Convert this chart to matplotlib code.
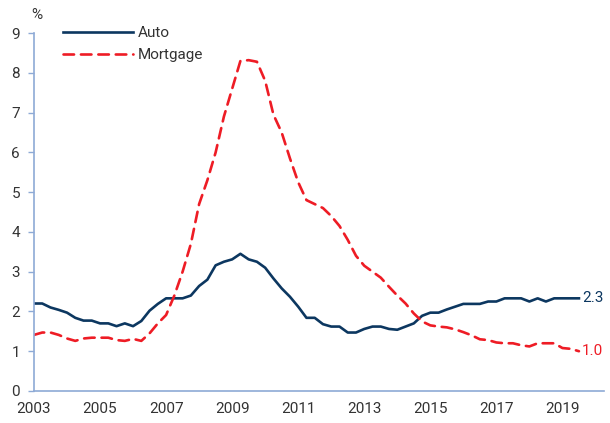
#!/usr/bin/env python3
"""Auto vs mortgage delinquency rate, quarterly 2003-2019."""

import matplotlib

matplotlib.use("Agg")
import matplotlib.pyplot as plt
import numpy as np

START_YEAR = 2003
QUARTERS_PER_YEAR = 4

# quarterly values (%), 2003Q1 .. 2019Q3
auto = [
    2.20, 2.20, 2.10, 2.04,
    1.97, 1.84, 1.77, 1.77,
    1.70, 1.70, 1.63, 1.70,
    1.63, 1.76, 2.02, 2.19,
    2.33, 2.33, 2.33, 2.40,
    2.64, 2.80, 3.16, 3.25,
    3.31, 3.45, 3.31, 3.25,
    3.10, 2.83, 2.58, 2.37,
    2.12, 1.84, 1.84, 1.68,
    1.62, 1.62, 1.47, 1.47,
    1.56, 1.62, 1.62, 1.56,
    1.54, 1.62, 1.70, 1.89,
    1.97, 1.97, 2.05, 2.12,
    2.19, 2.19, 2.19, 2.25,
    2.25, 2.33, 2.33, 2.33,
    2.25, 2.33, 2.25, 2.33,
    2.33, 2.33, 2.33,
]
mortgage = [
    1.41, 1.47, 1.47, 1.41,
    1.32, 1.26, 1.32, 1.34,
    1.34, 1.34, 1.28, 1.26,
    1.31, 1.26, 1.45, 1.70,
    1.91, 2.40, 3.00, 3.70,
    4.70, 5.30, 6.00, 6.90,
    7.60, 8.30, 8.32, 8.28,
    7.80, 6.95, 6.50, 5.85,
    5.25, 4.80, 4.70, 4.60,
    4.40, 4.15, 3.80, 3.40,
    3.15, 3.00, 2.85, 2.62,
    2.40, 2.20, 1.95, 1.75,
    1.65, 1.62, 1.60, 1.55,
    1.48, 1.40, 1.30, 1.28,
    1.22, 1.20, 1.20, 1.15,
    1.12, 1.20, 1.20, 1.20,
    1.08, 1.06, 1.00,
]
year_ticks = list(range(2003, 2020, 2))
y_ticks = list(range(0, 10))

AUTO_COLOR = "#0c3760"
MORT_COLOR = "#ee1c25"
AXIS_COLOR = "#8eaad6"
TEXT_COLOR = "#333333"
FS = 11

plt.rcParams["font.family"] = ["Roboto", "DejaVu Sans"]

t = START_YEAR + np.arange(len(auto)) / QUARTERS_PER_YEAR

fig = plt.figure(figsize=(6.10, 4.23), dpi=100)
ax = fig.add_axes([0.0557, 0.0757, 0.934, 0.846])

ax.plot(t, auto, color=AUTO_COLOR, linewidth=1.9, label="Auto", solid_joinstyle="round")
ax.plot(t, mortgage, color=MORT_COLOR, linewidth=1.9, linestyle=(0, (4, 2.6)),
        label="Mortgage", dash_capstyle="round")

ax.text(t[-1] + 0.1, auto[-1], f"{auto[-1]:.1f}", color=AUTO_COLOR, fontsize=FS,
        va="center", ha="left")
ax.text(t[-1] + 0.1, mortgage[-1], f"{mortgage[-1]:.1f}", color=MORT_COLOR, fontsize=FS,
        va="center", ha="left")

ax.set_xlim(2003, 2020.25)
ax.set_ylim(0, 9)
ax.set_xticks(year_ticks)
ax.set_xticklabels([str(y) for y in year_ticks])
ax.set_yticks(y_ticks)

for side in ("top", "right"):
    ax.spines[side].set_visible(False)
for side in ("left", "bottom"):
    ax.spines[side].set_color(AXIS_COLOR)
    ax.spines[side].set_linewidth(1.2)

ax.tick_params(axis="y", colors=AXIS_COLOR, labelcolor=TEXT_COLOR, labelsize=FS,
               length=4, width=1, direction="out", pad=6)
ax.tick_params(axis="x", length=0, labelcolor=TEXT_COLOR, labelsize=FS, pad=8)

ax.text(-0.005, 1.03, "%", transform=ax.transAxes, fontsize=FS, color=TEXT_COLOR,
        ha="left", va="bottom")

ax.legend(loc="upper left", bbox_to_anchor=(0.04, 1.036), frameon=False, fontsize=FS,
          handlelength=4.6, handletextpad=0.3, labelspacing=0.5, borderaxespad=0,
          labelcolor=TEXT_COLOR)

fig.savefig("out.png", dpi=100)
